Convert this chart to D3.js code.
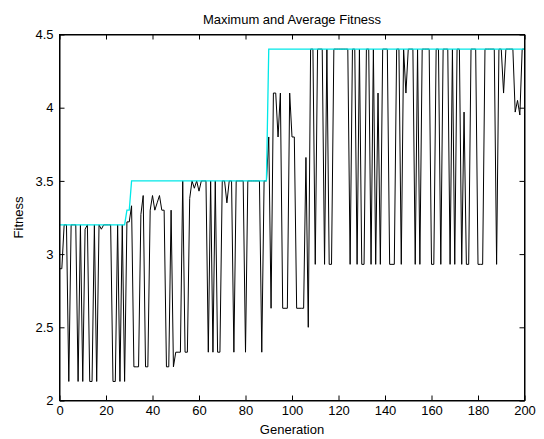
<!DOCTYPE html>
<html>
<head>
<meta charset="utf-8">
<script src="https://cdn.jsdelivr.net/npm/d3@7"></script>
<style>
  body { margin: 0; background: #fff; }
  text { font-family: "Liberation Sans", Arial, sans-serif; font-size: 13px; fill: #000; }
</style>
</head>
<body>
<svg></svg>
<script>
// average fitness, one value per generation 0..200
var avgFitness = [
  2.9, 2.9, 3.2, 3.2, 2.13, 3.2, 3.2, 3.2, 2.13, 3.2,
  2.13, 3.17, 3.2, 2.13, 2.13, 3.2, 2.13, 3.2, 3.17, 3.2,
  3.2, 3.2, 3.2, 2.13, 2.13, 3.2, 2.13, 3.2, 2.13, 3.22,
  3.22, 3.33, 2.23, 2.23, 2.23, 3.27, 3.4, 2.23, 2.23, 3.3,
  3.4, 3.3, 3.35, 3.4, 3.3, 3.3, 2.23, 2.23, 3.3, 2.23,
  2.33, 2.33, 2.33, 3.5, 2.33, 2.33, 3.38, 3.5, 3.45, 3.5,
  3.43, 3.5, 3.5, 3.5, 2.33, 3.5, 2.33, 3.5, 2.33, 2.33,
  3.5, 3.5, 3.35, 3.5, 3.5, 2.33, 3.5, 3.5, 3.5, 3.5,
  2.33, 3.5, 3.5, 3.5, 3.5, 3.5, 3.5, 2.33, 3.5, 3.5,
  3.8, 2.63, 4.1, 4.1, 3.8, 4.1, 2.63, 2.63, 2.63, 4.1,
  3.8, 3.8, 2.63, 2.63, 2.63, 2.63, 3.66, 2.5, 4.4, 4.4,
  2.93, 4.4, 4.4, 4.4, 2.93, 4.4, 2.93, 2.93, 4.4, 4.4,
  4.4, 4.4, 4.4, 4.4, 4.4, 2.93, 4.4, 4.4, 2.93, 4.4,
  2.93, 2.93, 4.4, 4.4, 2.93, 4.4, 2.93, 4.1, 2.93, 4.4,
  4.4, 4.4, 2.93, 2.93, 2.93, 4.4, 4.4, 2.93, 4.4, 4.1,
  4.4, 4.4, 4.4, 2.93, 4.4, 2.93, 4.4, 4.4, 4.4, 4.4,
  2.93, 2.93, 4.4, 4.4, 2.93, 4.4, 4.4, 4.4, 2.93, 4.4,
  2.93, 4.4, 4.4, 2.93, 3.97, 2.93, 2.93, 4.4, 4.4, 4.4,
  2.93, 2.93, 2.93, 4.4, 4.4, 4.4, 4.4, 4.4, 2.93, 4.4,
  4.4, 4.1, 4.4, 4.4, 4.4, 4.4, 3.97, 4.05, 3.95, 4.4,
  4.4
];
var generations = avgFitness.map(function(d, i) { return i; });

// maximum fitness, vertices of the cyan line
var maxGen = [0, 28, 29, 30, 31, 89, 90, 200];
var maxFitness = [3.2, 3.2, 3.3, 3.3, 3.5, 3.5, 4.4, 4.4];

var xTicks = [0, 20, 40, 60, 80, 100, 120, 140, 160, 180, 200];
var yTicks = [2, 2.5, 3, 3.5, 4, 4.5];

var width = 544;
var height = 439;
var plotLeft = 59.5, plotRight = 524.5, plotTop = 34.5, plotBottom = 400.5;

var svg = d3.select("svg")
              .attr("width", width)
              .attr("height", height);

var x = d3.scaleLinear().domain([0, 200]).range([plotLeft, plotRight]);
var y = d3.scaleLinear().domain([2, 4.5]).range([plotBottom, plotTop]);

var line = d3.line()
    .x(function(d) { return x(d[0]); })
    .y(function(d) { return y(d[1]); });

svg.append("path")
    .datum(generations.map(function(g, i) { return [g, avgFitness[i]]; }))
    .attr("fill", "none")
    .attr("stroke", "#000")
    .attr("stroke-width", 1)
    .attr("d", line);

svg.append("path")
    .datum(maxGen.map(function(g, i) { return [g, maxFitness[i]]; }))
    .attr("fill", "none")
    .attr("stroke", "#00e8e8")
    .attr("stroke-width", 1.3)
    .attr("d", line);

// axes, ticks pointing inwards on all four sides
var tick = 5;

svg.append("g")
    .attr("transform", `translate(0,${plotBottom})`)
    .call(d3.axisBottom(x).tickValues(xTicks).tickSizeInner(-tick).tickSizeOuter(0).tickPadding(5));

svg.append("g")
    .attr("transform", `translate(0,${plotTop})`)
    .call(d3.axisTop(x).tickValues(xTicks).tickSizeInner(-tick).tickSizeOuter(0).tickFormat(""));

svg.append("g")
    .attr("transform", `translate(${plotLeft},0)`)
    .call(d3.axisLeft(y).tickValues(yTicks).tickSizeInner(-tick).tickSizeOuter(0).tickPadding(6).tickFormat(d3.format("")));

svg.append("g")
    .attr("transform", `translate(${plotRight},0)`)
    .call(d3.axisRight(y).tickValues(yTicks).tickSizeInner(-tick).tickSizeOuter(0).tickFormat(""));

svg.selectAll(".tick line").attr("stroke", "#000");
svg.selectAll(".domain").attr("stroke", "#000");
svg.selectAll(".tick text").attr("font-size", 13).attr("font-family", null);

svg.append("rect")
    .attr("x", plotLeft).attr("y", plotTop)
    .attr("width", plotRight - plotLeft).attr("height", plotBottom - plotTop)
    .attr("fill", "none").attr("stroke", "#000");

svg.append("text")
    .attr("x", (plotLeft + plotRight) / 2).attr("y", 24)
    .attr("text-anchor", "middle")
    .text("Maximum and Average Fitness");

svg.append("text")
    .attr("x", (plotLeft + plotRight) / 2).attr("y", 434)
    .attr("text-anchor", "middle")
    .text("Generation");

svg.append("text")
    .attr("transform", `translate(23,${(plotTop + plotBottom) / 2}) rotate(-90)`)
    .attr("text-anchor", "middle")
    .text("Fitness");
</script>
</body>
</html>
